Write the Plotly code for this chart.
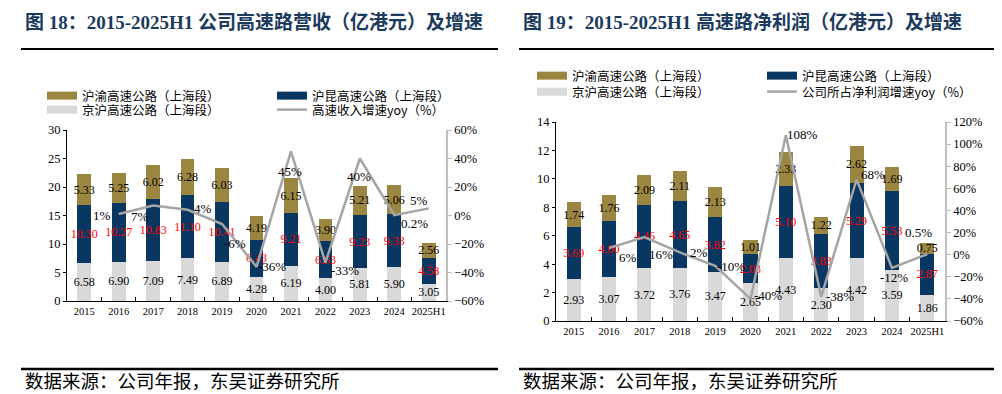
import plotly.graph_objects as go

W, H = 1002, 394

years = ["2015", "2016", "2017", "2018", "2019", "2020", "2021", "2022", "2023", "2024", "2025H1"]

# Figure 18: revenue (HKD 100m)
rev_jinghu = [6.58, 6.90, 7.09, 7.49, 6.89, 4.28, 6.19, 4.00, 5.81, 5.90, 3.05]
rev_hukun = [10.30, 10.27, 10.83, 11.10, 10.41, 6.43, 9.21, 6.53, 9.23, 9.33, 4.58]
rev_huyu = [5.33, 5.25, 6.02, 6.28, 6.03, 4.19, 6.15, 3.90, 5.21, 5.06, 2.56]
rev_yoy = [None, 1, 7, 4, -6, -36, 45, -33, 40, 0.2, 5]

# Figure 19: net profit (HKD 100m)
np_jinghu = [2.93, 3.07, 3.72, 3.76, 3.47, 2.65, 4.43, 2.30, 4.42, 3.59, 1.86]
np_hukun = [3.69, 4.00, 4.46, 4.65, 3.82, 2.03, 5.10, 3.83, 5.29, 5.53, 2.87]
np_huyu = [1.74, 1.76, 2.09, 2.11, 2.13, 1.01, 2.33, 1.22, 2.62, 1.69, 0.75]
np_yoy = [None, 6, 16, 2, -10, -40, 108, -38, 68, -12, 0.5]

# label offsets (style only, px): (dx, dy up)
rev_lbl_off = [(0, 0), (-17, -1), (-13, -11), (15, 1), (13, -19), (15, 0), (-1, -20), (20, -8),
               (-1, -18), (20, -8), (-10, 8)]
np_lbl_off = [(0, 0), (19, -9), (17, -18), (19, 0), (16, -1), (17, 3), (17, 1), (19, 0), (16, 5),
              (2, -10), (-9, 22)]

name_huyu = "沪渝高速公路（上海段）"
name_hukun = "沪昆高速公路（上海段）"
name_jinghu = "京沪高速公路（上海段）"
name_rev_line = "高速收入增速yoy（%）"
name_np_line = "公司所占净利润增速yoy（%）"

C_OLIVE = "#9A8641"
C_NAVY = "#0A3761"
C_GREY = "#D9D9D9"
C_LINE = "#A5A5A5"
SERIF = "Liberation Serif, Times New Roman, serif"
CJK = "Noto Sans CJK SC, sans-serif"

def pct(v):
    return "" if v is None else f"{v:g}%"

fig = go.Figure()

def add_panel(xa, ya, ya2, jinghu, hukun, huyu, yoy, offs, line_name, lg1, lg2, fs):
    common = dict(x=years, xaxis=xa, yaxis=ya, showlegend=False, textposition="inside",
                  insidetextanchor="middle", textangle=0, constraintext="none",
                  texttemplate="%{y:.2f}", cliponaxis=False, marker_line_width=0)
    fig.add_trace(go.Bar(y=jinghu, name=name_jinghu, marker_color=C_GREY,
                         textfont=dict(family=SERIF, size=fs, color="#000000"), **common))
    fig.add_trace(go.Bar(y=hukun, name=name_hukun, marker_color=C_NAVY,
                         textfont=dict(family=SERIF, size=fs, color="#FF0000"), **common))
    fig.add_trace(go.Bar(y=huyu, name=name_huyu, marker_color=C_OLIVE,
                         textfont=dict(family=SERIF, size=fs, color="#000000"), **common))
    fig.add_trace(go.Scatter(x=years, y=yoy, xaxis=xa, yaxis=ya2, mode="lines",
                             line=dict(color=C_LINE, width=2.5),
                             showlegend=False, cliponaxis=False, connectgaps=False))
    # growth labels: category axis annotations use the category index
    for i, (v, (dx, dy)) in enumerate(zip(yoy, offs)):
        if v is None:
            continue
        fig.add_annotation(x=i, y=v, xref=xa, yref=ya2, text=pct(v), showarrow=False,
                           xshift=dx, yshift=dy, font=dict(family=SERIF, size=fs + 1, color="#000000"))
    # legend entries (legend-only swatches)
    for nm, col, lw, lg, rank in [(name_huyu, C_OLIVE, 8, lg1, 1), (name_hukun, C_NAVY, 8, lg1, 2),
                                  (name_jinghu, C_GREY, 8, lg2, 3), (line_name, C_LINE, 2.5, lg2, 4)]:
        fig.add_trace(go.Scatter(x=[None], y=[None], xaxis=xa, yaxis=ya, mode="lines", name=nm,
                                 line=dict(color=col, width=lw), legend=lg, legendrank=rank,
                                 showlegend=True, hoverinfo="skip"))

add_panel("x", "y", "y2", rev_jinghu, rev_hukun, rev_huyu, rev_yoy, rev_lbl_off, name_rev_line,
          "legend", "legend2", 12)
add_panel("x2", "y3", "y4", np_jinghu, np_hukun, np_huyu, np_yoy, np_lbl_off, name_np_line,
          "legend3", "legend4", 12)

def px_x(p):
    return p / W

def px_y(p):
    return 1 - p / H

tickfont = dict(family=SERIF, size=12.5, color="#000000")
xtickfont = dict(family=SERIF, size=10.5, color="#000000")

def xaxis_cfg(dom, anchor):
    return dict(domain=dom, anchor=anchor, type="category", categoryorder="array", categoryarray=years,
                range=[-0.5, len(years) - 0.5], autorange=False,
                showline=True, linecolor="#000000", linewidth=1, ticks="inside", ticklen=4,
                tickcolor="#000000", tickson="boundaries", tickfont=xtickfont, tickangle=0,
                showgrid=False, zeroline=False, fixedrange=True)

def yleft_cfg(dom, anchor, rng, dtick):
    return dict(domain=dom, anchor=anchor, range=rng, autorange=False, dtick=dtick, showline=True,
                linecolor="#000000", linewidth=1, ticks="outside", ticklen=3, tickcolor="#000000",
                tickfont=tickfont, showgrid=False, zeroline=False, fixedrange=True)

def yright_cfg(over, anchor, rng):
    return dict(overlaying=over, anchor=anchor, side="right", range=rng, autorange=False, dtick=20,
                ticksuffix="%", showline=True, linecolor="#BFBFBF", linewidth=1.5, ticks="outside",
                ticklen=4, tickcolor="#BFBFBF", tickfont=tickfont, showgrid=False, zeroline=False,
                fixedrange=True)

legend_common = dict(orientation="h", xanchor="left", yanchor="middle", bgcolor="rgba(0,0,0,0)",
                     font=dict(family=CJK, size=12.5, color="#000000"), itemwidth=30, traceorder="normal",
                     entrywidth=185, tracegroupgap=0, itemclick=False, itemdoubleclick=False)

fig.update_layout(
    width=W, height=H,
    margin=dict(l=0, r=0, t=0, b=0, autoexpand=False),
    paper_bgcolor="#FFFFFF", plot_bgcolor="rgba(0,0,0,0)",
    barmode="stack", bargap=0.6,
    xaxis=xaxis_cfg([px_x(59), px_x(438)], "y"),
    yaxis=yleft_cfg([px_y(293), px_y(122)], "x", [0, 30], 5),
    yaxis2=yright_cfg("y", "x", [-60, 60]),
    xaxis2=xaxis_cfg([px_x(548), px_x(937)], "y3"),
    yaxis3=yleft_cfg([px_y(313), px_y(114)], "x2", [0, 14], 2),
    yaxis4=yright_cfg("y3", "x2", [-60, 120]),
    legend=dict(x=px_x(34), y=px_y(88), **legend_common),
    legend2=dict(x=px_x(34), y=px_y(102), **legend_common),
    legend3=dict(x=px_x(524), y=px_y(68), **legend_common),
    legend4=dict(x=px_x(524), y=px_y(84), **legend_common),
    showlegend=True,
    hovermode=False,
)

# titles
title_font = dict(family=SERIF + ", " + CJK, size=19, color="#1B3A5E")
fig.add_annotation(x=px_x(15), y=px_y(14), xref="paper", yref="paper", xanchor="left", yanchor="middle",
                   text="<b>图 18：2015-2025H1 公司高速路营收（亿港元）及增速</b>", showarrow=False,
                   font=title_font)
fig.add_annotation(x=px_x(513), y=px_y(14), xref="paper", yref="paper", xanchor="left", yanchor="middle",
                   text="<b>图 19：2015-2025H1 高速路净利润（亿港元）及增速</b>", showarrow=False,
                   font=title_font)
src_font = dict(family=CJK, size=18.5, color="#000000")
for x0 in (15, 513):
    fig.add_annotation(x=px_x(x0), y=px_y(372), xref="paper", yref="paper", xanchor="left",
                       yanchor="middle", text="数据来源：公司年报，东吴证券研究所", showarrow=False,
                       font=src_font)

for (a, b) in ((13, 490), (511, 988)):
    fig.add_shape(type="line", xref="paper", yref="paper", x0=px_x(a), x1=px_x(b), y0=px_y(41),
                  y1=px_y(41), line=dict(color="#000000", width=2))
    fig.add_shape(type="line", xref="paper", yref="paper", x0=px_x(a), x1=px_x(b), y0=px_y(361),
                  y1=px_y(361), line=dict(color="#000000", width=2.5))

fig.write_html("out.html", config={"displayModeBar": False})
